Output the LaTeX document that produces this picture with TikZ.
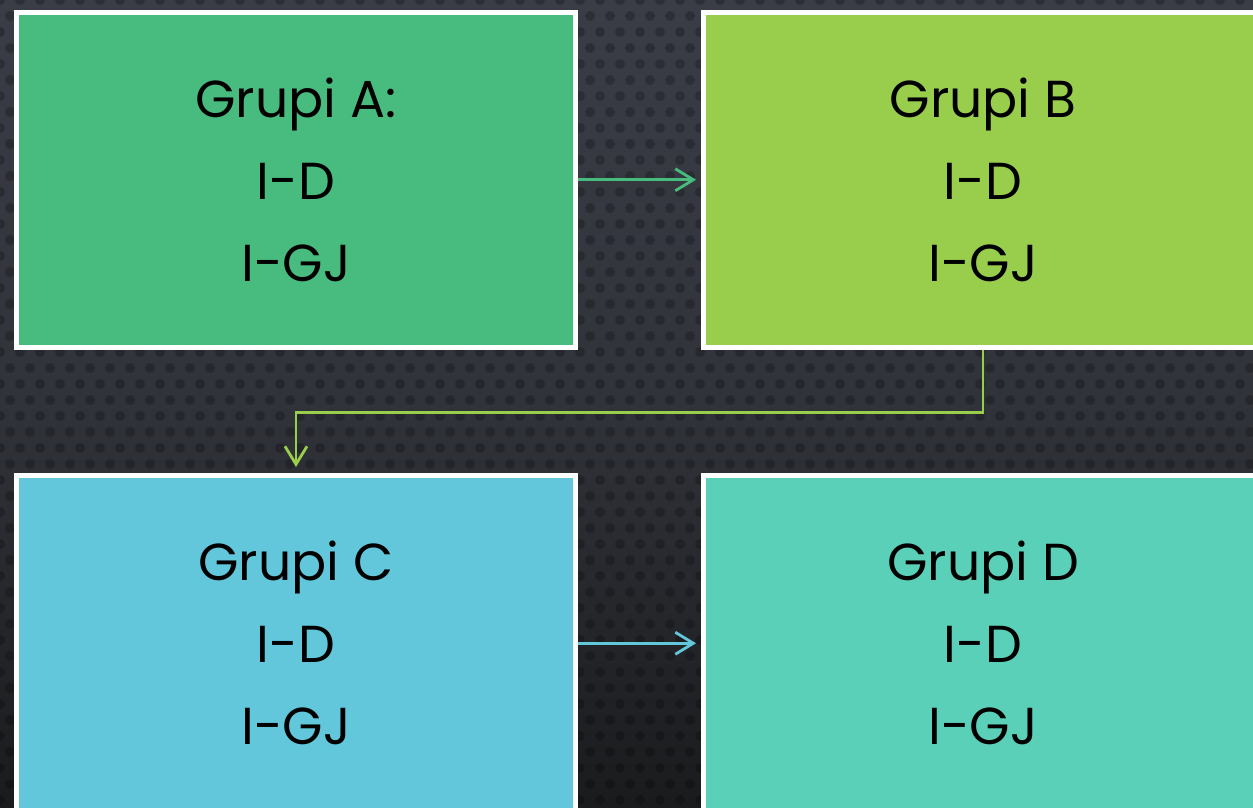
\documentclass[tikz,border=0pt]{standalone}
\usepackage{fontspec}
\setmainfont{Poppins}
\usetikzlibrary{arrows.meta}
\definecolor{bgtop}{HTML}{3A3D46}
\definecolor{bgbot}{HTML}{1A1B1D}
\definecolor{cA}{HTML}{48BC7E}
\definecolor{cB}{HTML}{99CD4C}
\definecolor{cC}{HTML}{62C7DB}
\definecolor{cD}{HTML}{5BD0B8}
\tikzset{
  grpbox/.style={draw=white, line width=5pt, rectangle, minimum width=559pt, minimum height=335.5pt,
    inner sep=0pt, align=center, text=black, font=\fontsize{52}{82}\selectfont},
  conn/.style={line width=2.8pt, -{Straight Barb[length=18pt,width=22pt,line width=2.8pt]}},
  dotc/.style={fill=black, opacity=0.22}
}
\begin{document}
\begin{tikzpicture}[x=1pt,y=-1pt]
\useasboundingbox (0,0) rectangle (1253,807);
\begin{scope}
\clip (0,0) rectangle (1253,807);
\shade[top color=bgtop, bottom color=bgbot, middle color=bgtop!70!bgbot] (0,0) rectangle (1253,807);
\foreach \j in {0,...,25}{
  \foreach \i in {0,...,63}{
    \fill[dotc] (20*\i,32*\j) circle (5pt);
    \fill[dotc] (20*\i+10,32*\j+16) circle (5pt);
  }
}
\end{scope}
\node[grpbox, fill=cA] (A) at (296,179.75) {Grupi A:\\I-D\\I-GJ};
\node[grpbox, fill=cB] (B) at (983,179.75) {Grupi B\\I-D\\I-GJ};
\node[grpbox, fill=cC] (C) at (296,643.25) {Grupi C\\I-D\\I-GJ};
\node[grpbox, fill=cD] (D) at (983,643.25) {Grupi D\\I-D\\I-GJ};
\draw[conn, cA, shorten >=5pt] (A) -- (B);
\draw[conn, cC, shorten >=5pt] (C) -- (D);
\draw[conn, cB, shorten >=6pt] (B.south) -- ++(0,62.5) -| (C.north);
\end{tikzpicture}
\end{document}
